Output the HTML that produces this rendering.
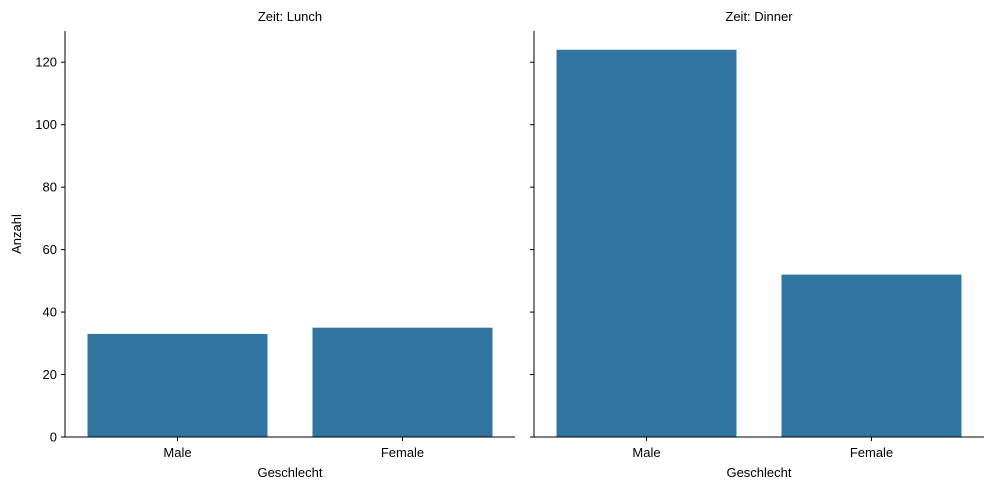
<!DOCTYPE html>
<html><head><meta charset="utf-8"><style>
body{margin:0;background:#fff;}
svg{display:block;font-family:"Liberation Sans","DejaVu Sans",sans-serif;}
</style></head><body>
<svg id="chart" width="1008" height="490"></svg>
<script>
const panels = ["Lunch", "Dinner"];
const categories = ["Male", "Female"];
const lunchValues = [33, 35];
const dinnerValues = [124, 52];
const yTicks = [0, 20, 40, 60, 80, 100, 120];

const NS = "http://www.w3.org/2000/svg";
const svg = document.getElementById("chart");
const y0 = 437, yTop = 31, yMax = 130;
const panelX = [65, 534], panelW = 450;
function yScale(v){ return y0 - (v / yMax) * (y0 - yTop); }
function xScale(p, i){ return panelX[p] + (i + 0.5) / categories.length * panelW; }
function mk(tag, attrs, parent){
  const e = document.createElementNS(NS, tag);
  for (const k in attrs) e.setAttribute(k, attrs[k]);
  (parent || svg).appendChild(e);
  return e;
}
const allValues = [lunchValues, dinnerValues];
panels.forEach((pn, p) => {
  const g = mk("g", {});
  
  
  // bars
  allValues[p].forEach((v, i) => {
    const bw = panelW / categories.length * 0.8;
    const r = mk("rect", {x: xScale(p, i) - bw / 2, y: yScale(v), width: bw, height: y0 - yScale(v), fill: "#3274a1"}, g);
    
    
  });
  // axes lines
  const ax = mk("line", {x1: panelX[p], x2: panelX[p] + panelW, y1: y0, y2: y0, stroke: "#000", "stroke-width": 1}, g);
  
  
  const ay = mk("line", {x1: panelX[p], x2: panelX[p], y1: yTop, y2: y0, stroke: "#000", "stroke-width": 1}, g);
  
  
  // y ticks
  yTicks.forEach(t => {
    const y = yScale(t);
    const tk = mk("line", {x1: panelX[p] - 4, x2: panelX[p], y1: y, y2: y, stroke: "#000"}, g);
    
    
    if (p === 0) {
      const tl = mk("text", {x: panelX[p] - 8, y: y + 4.5, "text-anchor": "end", "font-size": 13}, g);
      tl.textContent = t;
      
      
    }
  });
  // x ticks
  categories.forEach((c, i) => {
    const x = xScale(p, i);
    const tk = mk("line", {x1: x, x2: x, y1: y0, y2: y0 + 4, stroke: "#000"}, g);
    
    
    const tl = mk("text", {x: x, y: 457, "text-anchor": "middle", "font-size": 13}, g);
    tl.textContent = c;
    
    
  });
  const xl = mk("text", {x: panelX[p] + panelW / 2, y: 477, "text-anchor": "middle", "font-size": 13}, g);
  xl.textContent = "Geschlecht";
  
  
  const ti = mk("text", {x: panelX[p] + panelW / 2, y: 21, "text-anchor": "middle", "font-size": 13}, g);
  ti.textContent = "Zeit: " + pn;
  
  
});
const yl = mk("text", {x: 0, y: 0, transform: "translate(21,234) rotate(-90)", "text-anchor": "middle", "font-size": 13});
yl.textContent = "Anzahl";


</script>
</body></html>
